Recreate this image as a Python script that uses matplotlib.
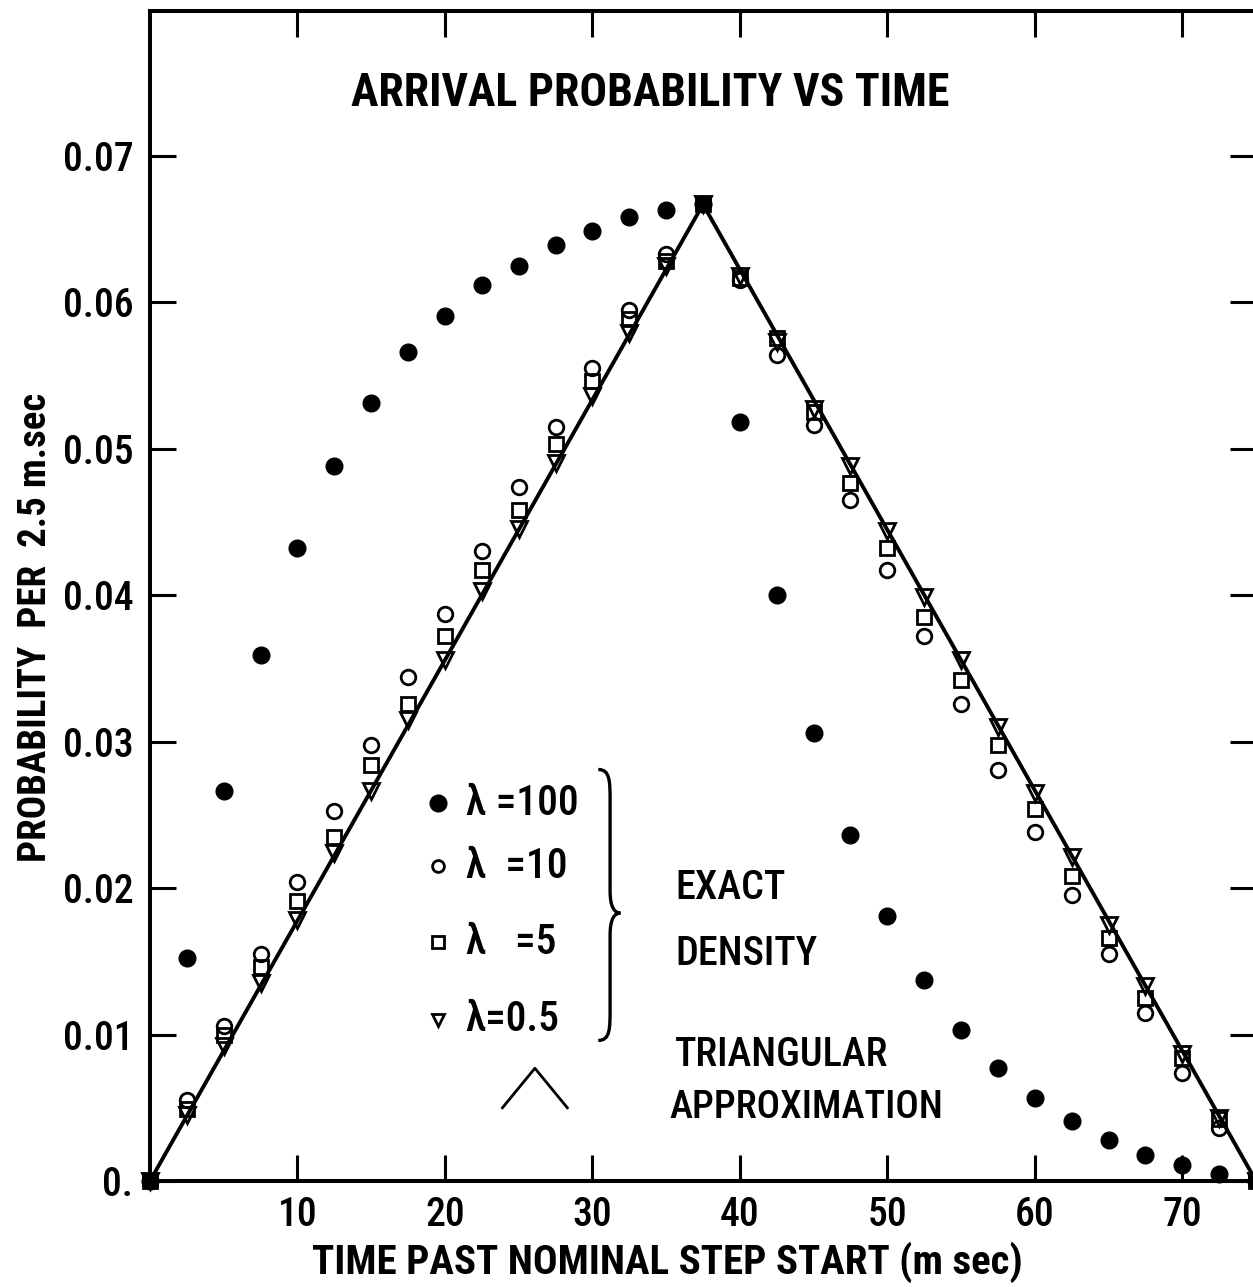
import matplotlib
matplotlib.use("Agg")
import matplotlib.pyplot as plt
from matplotlib.path import Path
from matplotlib.patches import PathPatch
from matplotlib import font_manager

# ---- data -------------------------------------------------------------
time_ms = [0, 2.5, 5, 7.5, 10, 12.5, 15, 17.5, 20, 22.5, 25, 27.5, 30, 32.5, 35,
           37.5, 40, 42.5, 45, 47.5, 50, 52.5, 55, 57.5, 60, 62.5, 65, 67.5, 70,
           72.5, 75]

lam100 = [0.0, 0.0152, 0.0266, 0.0359, 0.0432, 0.0488, 0.0531, 0.0566, 0.0591,
          0.0612, 0.0625, 0.0639, 0.0649, 0.0658, 0.0663, 0.0667, 0.0518, 0.0400,
          0.0306, 0.0236, 0.0181, 0.0137, 0.0103, 0.0077, 0.0057, 0.0041, 0.0028,
          0.0018, 0.0011, 0.0005, 0.0]

lam10 = [0.0, 0.0055, 0.0106, 0.0155, 0.0204, 0.0253, 0.0298, 0.0344, 0.0387,
         0.0430, 0.0474, 0.0515, 0.0555, 0.0595, 0.0633, 0.0667, 0.0615, 0.0564,
         0.0516, 0.0465, 0.0417, 0.0372, 0.0326, 0.0281, 0.0238, 0.0195, 0.0155,
         0.0115, 0.0074, 0.0036, 0.0]

lam5 = [0.0, 0.0049, 0.0100, 0.0146, 0.0191, 0.0235, 0.0284, 0.0326, 0.0372,
        0.0417, 0.0458, 0.0503, 0.0546, 0.0589, 0.0628, 0.0667, 0.0617, 0.0576,
        0.0525, 0.0477, 0.0432, 0.0385, 0.0342, 0.0298, 0.0254, 0.0208, 0.0166,
        0.0125, 0.0084, 0.0042, 0.0]

lam05 = [0.0, 0.0045, 0.0092, 0.0135, 0.0178, 0.0224, 0.0266, 0.0315, 0.0356,
         0.0403, 0.0445, 0.0490, 0.0536, 0.0579, 0.0625, 0.0667, 0.0618, 0.0573,
         0.0527, 0.0488, 0.0444, 0.0399, 0.0356, 0.0310, 0.0265, 0.0221, 0.0175,
         0.0133, 0.0087, 0.0043, 0.0]

# triangular approximation: vertices (start, peak, end)
tri_t = [0, 37.5, 75]
tri_p = [0.0, 0.0667, 0.0]

x_ticks = [10, 20, 30, 40, 50, 60, 70]
x_ticklabels = ["10", "20", "30", "40", "50", "60", "70"]
y_ticks = [0.0, 0.01, 0.02, 0.03, 0.04, 0.05, 0.06, 0.07]
y_ticklabels = ["0.", "0.01", "0.02", "0.03", "0.04", "0.05", "0.06", "0.07"]

legend_labels = ["\u03bb =100", "\u03bb  =10", "\u03bb   =5", "\u03bb=0.5"]

# ---- fonts ------------------------------------------------------------
names = {f.name for f in font_manager.fontManager.ttflist}
main = next((n for n in ["Roboto Condensed", "Liberation Sans Narrow",
                         "Open Sans Condensed", "Roboto"] if n in names), "DejaVu Sans")
plt.rcParams["font.family"] = [main, "DejaVu Sans"]

# ---- figure -----------------------------------------------------------
W, H = 1253, 1287
fig = plt.figure(figsize=(W / 100, H / 100), dpi=100)
ax = fig.add_axes([150 / W, 106 / H, 1106 / W, 1170 / H])
ax.set_xlim(0, 75)
ax.set_ylim(0, 0.0799)

for s in ax.spines.values():
    s.set_linewidth(2.9)

ax.set_xticks(x_ticks)
ax.set_xticklabels(x_ticklabels, fontweight="medium")
ax.set_yticks(y_ticks)
ax.set_yticklabels(y_ticklabels, fontweight="medium")
ax.tick_params(direction="in", top=True, right=True, length=19, width=2.2,
               labelsize=28.5, pad=11)
ax.tick_params(axis="y", pad=12)

# triangular approximation
ax.plot(tri_t, tri_p, color="black", lw=2.8, zorder=2, clip_on=False)

mk = dict(linestyle="none", clip_on=False)
ax.plot(time_ms, lam05, marker="v", ms=11, mfc="none", mec="black", mew=2.0, zorder=3, **mk)
ax.plot(time_ms, lam5, marker="s", ms=9.5, mfc="none", mec="black", mew=2.0, zorder=4, **mk)
ax.plot(time_ms, lam10, marker="o", ms=10.5, mfc="none", mec="black", mew=2.0, zorder=5, **mk)
ax.plot(time_ms, lam100, marker="o", ms=12, mfc="black", mec="black", zorder=6, **mk)

# title inside the frame
ax.text(0.452, 0.930, "ARRIVAL PROBABILITY VS TIME", transform=ax.transAxes,
        ha="center", va="center", fontsize=33, fontweight="bold")

ax.set_xlabel("TIME PAST NOMINAL STEP START (m sec)", fontsize=29.5, fontweight="bold")
ax.xaxis.set_label_coords(0.468, -0.052)
ax.set_ylabel("PROBABILITY  PER  2.5 m.sec", fontsize=28, fontweight="bold")
ax.yaxis.set_label_coords(-0.087, 0.4735)

# key for the exact densities
key_y = [0.0258, 0.0215, 0.0163, 0.0110]
key_markers = [dict(marker="o", ms=12, mfc="black", mec="black"),
               dict(marker="o", ms=8.5, mfc="none", mec="black", mew=2.0),
               dict(marker="s", ms=8, mfc="none", mec="black", mew=2.0),
               dict(marker="v", ms=9, mfc="none", mec="black", mew=2.0)]
for yk, lab, m in zip(key_y, legend_labels, key_markers):
    ax.plot([19.5], [yk], linestyle="none", **m)
    ax.text(21.4, yk, lab, ha="left", va="center", fontsize=30, fontweight="medium")

# right brace grouping the key
bx0, bx1, bx2 = 30.4, 31.2, 31.9
top, mid, bot = 0.0281, 0.0183, 0.0096
verts = [(bx0, top), (bx1, top), (bx1, top - 0.0008), (bx1, top - 0.0022),
         (bx1, mid + 0.0015),
         (bx1, mid + 0.0004), (bx1 + 0.3, mid), (bx2, mid),
         (bx1 + 0.3, mid), (bx1, mid - 0.0004), (bx1, mid - 0.0015),
         (bx1, bot + 0.0022),
         (bx1, bot + 0.0008), (bx1, bot), (bx0, bot)]
codes = [Path.MOVETO, Path.CURVE4, Path.CURVE4, Path.CURVE4,
         Path.LINETO,
         Path.CURVE4, Path.CURVE4, Path.CURVE4,
         Path.CURVE4, Path.CURVE4, Path.CURVE4,
         Path.LINETO,
         Path.CURVE4, Path.CURVE4, Path.CURVE4]
ax.add_patch(PathPatch(Path(verts, codes), fill=False, lw=2.4, color="black"))

ax.text(35.6, 0.0200, "EXACT", ha="left", va="center", fontsize=29, fontweight="medium")
ax.text(35.6, 0.0155, "DENSITY", ha="left", va="center", fontsize=29, fontweight="medium")

# glyph for the triangular approximation
ax.plot([23.9, 26.1, 28.3], [0.0050, 0.0077, 0.0050], color="black", lw=2.0)
ax.text(35.6, 0.0086, "TRIANGULAR", ha="left", va="center", fontsize=29, fontweight="medium")
ax.text(35.2, 0.0050, "APPROXIMATION", ha="left", va="center", fontsize=28, fontweight="medium")

fig.savefig("out.png", dpi=100, facecolor="white")
